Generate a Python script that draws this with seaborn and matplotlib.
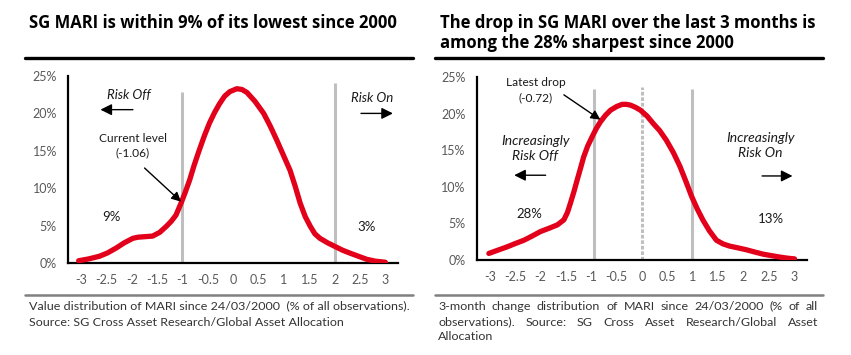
import numpy as np
import pandas as pd
import seaborn as sns
import matplotlib.pyplot as plt
from matplotlib.lines import Line2D
from matplotlib.ticker import FuncFormatter

# value distribution of MARI (left panel), % of observations
level_x = [-3.05, -2.85, -2.64, -2.48, -2.31, -2.15, -1.98, -1.88, -1.78, -1.59, -1.45, -1.32, -1.22,
           -1.13, -1.03, -0.95, -0.86, -0.77, -0.67, -0.57, -0.47, -0.37, -0.27, -0.17, -0.07, 0.07,
           0.17, 0.27, 0.43, 0.60, 0.73, 0.86, 0.99, 1.12, 1.22, 1.32, 1.42, 1.52, 1.61, 1.71, 1.86,
           2.01, 2.16, 2.31, 2.47, 2.63, 2.80, 3.0]
level_pct = [0.3, 0.55, 0.9, 1.35, 2.0, 2.7, 3.3, 3.45, 3.5, 3.6, 4.1, 4.9, 5.6,
             6.4, 8.0, 9.4, 11.1, 13.1, 15.1, 17.0, 18.7, 20.1, 21.3, 22.3, 22.9, 23.3,
             23.2, 22.8, 21.6, 20.0, 18.3, 16.4, 14.4, 12.4, 10.3, 8.0, 6.2, 4.9, 3.9, 3.3, 2.7,
             2.2, 1.7, 1.3, 0.9, 0.5, 0.25, 0.1]

# 3-month change distribution of MARI (right panel)
change_x = [-3.02, -2.84, -2.66, -2.50, -2.33, -2.16, -2.0, -1.83, -1.67, -1.54, -1.47, -1.41, -1.34,
            -1.28, -1.21, -1.15, -1.07, -0.98, -0.90, -0.82, -0.72, -0.62, -0.50, -0.39, -0.31, -0.23,
            -0.13, -0.03, 0.10, 0.22, 0.35, 0.48, 0.62, 0.75, 0.87, 0.98, 1.09, 1.20, 1.33, 1.47, 1.60,
            1.73, 1.90, 2.06, 2.22, 2.39, 2.55, 2.72, 2.87, 3.01]
change_pct = [0.9, 1.35, 1.8, 2.25, 2.7, 3.3, 3.9, 4.35, 4.8, 5.5, 6.5, 7.8, 9.4,
              10.9, 12.6, 14.1, 15.6, 16.9, 18.0, 18.9, 19.8, 20.5, 21.0, 21.3, 21.3, 21.2,
              20.9, 20.5, 19.7, 18.7, 17.7, 16.4, 14.7, 12.8, 10.7, 8.7, 7.0, 5.5, 4.0, 2.7, 2.2,
              1.9, 1.65, 1.4, 1.1, 0.8, 0.6, 0.4, 0.25, 0.15]

# threshold lines (x position, top in %)
level_lines = [(-1.02, 22.9), (2.0, 24.1)]
change_lines = [(-0.95, 23.4), (0.98, 23.4)]
change_zero = (0.0, 23.7)

x_ticks = [-3, -2.5, -2, -1.5, -1, -0.5, 0, 0.5, 1, 1.5, 2, 2.5, 3]
x_labels = ['-3', '-2.5', '-2', '-1.5', '-1', '-0.5', '0', '0.5', '1', '1.5', '2', '2.5', '3']
y_ticks = [0, 5, 10, 15, 20, 25]

titles = ['SG MARI is within 9% of its lowest since 2000',
          'The drop in SG MARI over the last 3 months is\namong the 28% sharpest since 2000']

RED = '#E2001A'
GREY = '#BFBFBF'
TXT = '#1a1a1a'

sns.set_style('white')
plt.rcParams['font.family'] = ['Lato', 'DejaVu Sans']

W, H = 851, 355
fig = plt.figure(figsize=(W / 100, H / 100), dpi=100)
renderer = fig.canvas.get_renderer()


def fx(x):
    return x / W


def fy(y):
    return 1 - y / H


def fit_size(text, width_px, **kw):
    # font size that makes one line of text the given width
    t = fig.text(0, 0, text, fontsize=10, **kw)
    w = t.get_window_extent(renderer).width
    t.remove()
    return 10 * width_px / w


def style_axes(ax):
    ax.set_xlim(-3.26, 3.25)
    ax.set_ylim(0, 25)
    ax.set_xticks(x_ticks)
    ax.set_xticklabels(x_labels)
    ax.set_yticks(y_ticks)
    ax.yaxis.set_major_formatter(FuncFormatter(lambda v, p: f'{v:.0f}%'))
    for s in ['top', 'right']:
        ax.spines[s].set_visible(False)
    for s in ['left', 'bottom']:
        ax.spines[s].set_color('black')
        ax.spines[s].set_linewidth(1.6)
    ax.tick_params(axis='both', direction='out', length=4, width=1.4, color='black',
                   labelsize=9, labelcolor='#595959', pad=4)
    ax.set_xlabel('')
    ax.set_ylabel('')
    ax.grid(False)


def arrow(ax, start, end, scale=14):
    ax.annotate('', xy=end, xytext=start,
                arrowprops=dict(arrowstyle='-|>', color='black', lw=1.0,
                                mutation_scale=scale, shrinkA=0, shrinkB=0))


line_kw = dict(color=RED, lw=3.8, zorder=3, solid_joinstyle='round', solid_capstyle='round')

# left panel
ax1 = fig.add_axes([fx(68), fy(263), 330 / W, 187 / H])
for xv, top in level_lines:
    ax1.vlines(xv, 0, top, color=GREY, lw=2.2, zorder=1)
df1 = pd.DataFrame({'x': level_x, 'pct': level_pct})
sns.lineplot(data=df1, x='x', y='pct', ax=ax1, **line_kw)
style_axes(ax1)
ax1.text(-2.05, 22.5, 'Risk Off', style='italic', fontsize=9.5, ha='center', va='center', color=TXT)
arrow(ax1, (-1.98, 20.5), (-2.62, 20.5), scale=17)
ax1.text(2.73, 22.0, 'Risk On', style='italic', fontsize=9.5, ha='center', va='center', color=TXT)
arrow(ax1, (2.52, 20.0), (3.15, 20.0), scale=17)
ax1.text(-1.98, 15.7, 'Current level\n(-1.06)', fontsize=8.6, ha='center', va='center',
         color=TXT, linespacing=1.45)
arrow(ax1, (-1.75, 12.7), (-1.03, 8.2), scale=14)
ax1.text(-2.41, 6.2, '9%', fontsize=9.5, ha='center', va='center', color=TXT)
ax1.text(2.63, 4.8, '3%', fontsize=9.5, ha='center', va='center', color=TXT)

# right panel
ax2 = fig.add_axes([fx(476.7), fy(260), 330 / W, 182.7 / H])
for xv, top in change_lines:
    ax2.vlines(xv, 0, top, color=GREY, lw=2.2, zorder=1)
ax2.vlines(change_zero[0], 0, change_zero[1], color=GREY, lw=2.2, linestyles=(0, (1.2, 0.6)), zorder=1)
df2 = pd.DataFrame({'x': change_x, 'pct': change_pct})
sns.lineplot(data=df2, x='x', y='pct', ax=ax2, **line_kw)
style_axes(ax2)
ax2.text(-2.10, 23.2, 'Latest drop\n(-0.72)', fontsize=8.6, ha='center', va='center',
         color=TXT, linespacing=1.45)
arrow(ax2, (-1.54, 22.6), (-0.82, 19.2), scale=14)
ax2.text(-2.10, 15.3, 'Increasingly\nRisk Off', style='italic', fontsize=10, ha='center',
         va='center', color=TXT, linespacing=1.3)
arrow(ax2, (-1.90, 11.6), (-2.52, 11.6), scale=17)
ax2.text(2.34, 15.6, 'Increasingly\nRisk On', style='italic', fontsize=10, ha='center',
         va='center', color=TXT, linespacing=1.3)
arrow(ax2, (2.37, 11.5), (2.97, 11.5), scale=17)
ax2.text(-2.23, 6.3, '28%', fontsize=9.5, ha='center', va='center', color=TXT)
ax2.text(2.55, 5.6, '13%', fontsize=9.5, ha='center', va='center', color=TXT)

# titles and rules
title_kw = dict(fontweight='bold', family=['Open Sans', 'DejaVu Sans'], color='black')
tsize = fit_size(titles[0], 368, **title_kw)
fig.text(fx(29), fy(23), titles[0], fontsize=tsize, va='center', ha='left', **title_kw)
fig.text(fx(440), fy(33), titles[1], fontsize=tsize, va='center', ha='left', linespacing=1.15, **title_kw)
for x0, x1 in [(25, 413), (435, 823)]:
    fig.add_artist(Line2D([fx(x0), fx(x1)], [fy(58), fy(58)], color='black', lw=2.4))
    fig.add_artist(Line2D([fx(x0), fx(x1)], [fy(295), fy(295)], color='#808080', lw=1.8))

# captions
cap1 = 'Value distribution of MARI since 24/03/2000  (% of all observations).'
cap_kw = dict(color='#333333', va='center', ha='left', family=['Lato', 'DejaVu Sans'])
cap_kw['fontsize'] = fit_size(cap1, 379, family=cap_kw['family'])
fig.text(fx(29), fy(306), cap1, **cap_kw)
fig.text(fx(29), fy(322), 'Source: SG Cross Asset Research/Global Asset Allocation', **cap_kw)


def justified(line, x0, x1, y):
    words = line.split()
    texts = [fig.text(0, fy(y), w, **cap_kw) for w in words]
    widths = [t.get_window_extent(renderer).width for t in texts]
    gap = (x1 - x0 - sum(widths)) / (len(words) - 1)
    pos = x0
    for t, w in zip(texts, widths):
        t.set_x(fx(pos))
        pos += w + gap


justified('3-month change distribution of MARI since 24/03/2000 (% of all', 438, 818, 306)
justified('observations). Source: SG Cross Asset Research/Global Asset', 438, 818, 322)
fig.text(fx(438), fy(337), 'Allocation', **cap_kw)

fig.savefig('out.png', dpi=100)
